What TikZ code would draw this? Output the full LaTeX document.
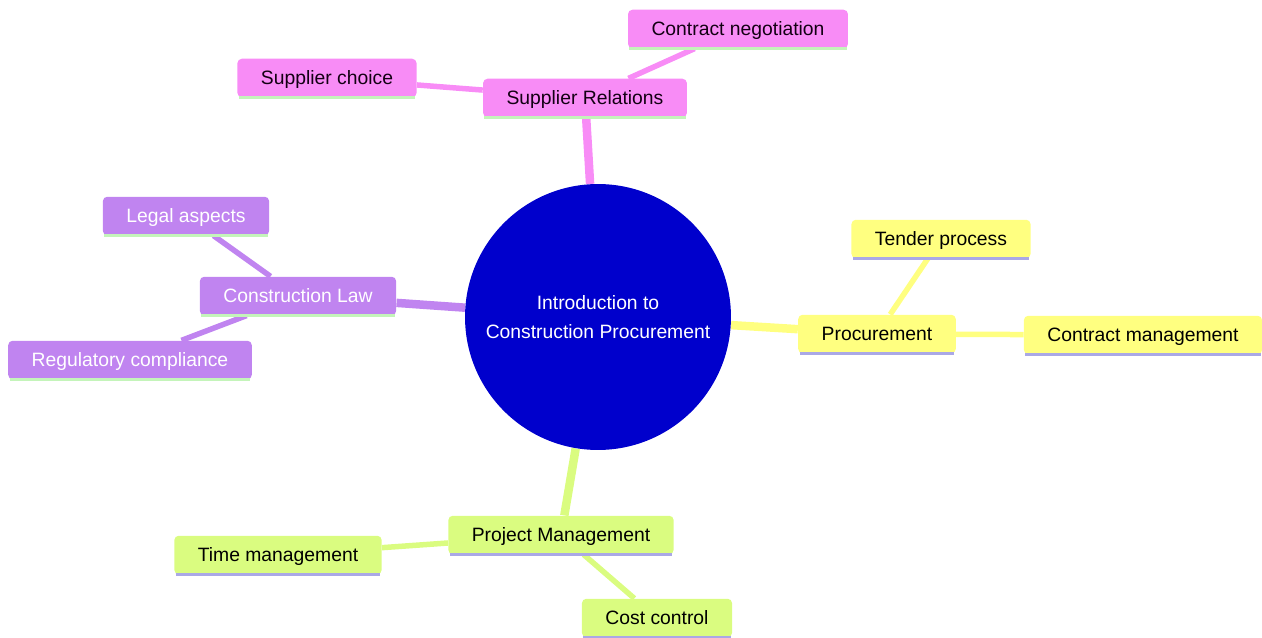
\documentclass[tikz,border=0pt]{standalone}
\usepackage{fontspec}
\setmainfont{Liberation Sans}
\usetikzlibrary{backgrounds}
\definecolor{relfill}{RGB}{248,140,246}
\definecolor{lawfill}{RGB}{192,132,240}
\definecolor{procfill}{RGB}{255,255,128}
\definecolor{pmfill}{RGB}{218,252,128}
\definecolor{rootblue}{RGB}{0,0,204}
\definecolor{greenline}{RGB}{196,244,186}
\definecolor{lavline}{RGB}{170,168,230}
\begin{document}
\begin{tikzpicture}[x=0.02cm,y=-0.02cm,
    font=\fontsize{11}{16.5}\selectfont,
    box/.style={rounded corners=2.5pt,minimum height=0.77cm,inner xsep=0.47cm,inner ysep=0pt,
      text height=0.82em,text depth=0.1em},
    rel/.style={box,fill=relfill,text=black!85!violet},
    law/.style={box,fill=lawfill,text=white},
    proc/.style={box,fill=procfill,text=black},
    pm/.style={box,fill=pmfill,text=black},
    trunk/.style={line width=0.17cm},
    twig/.style={line width=0.11cm}]
  \useasboundingbox (0,0) rectangle (1262,638);
  % root
  \node[circle,fill=rootblue,text=white,align=center,minimum size=5.32cm] (root) at (598,317)
    {Introduction to\\Construction Procurement};
  % supplier relations
  \node[rel] (rel) at (585,98) {Supplier Relations};
  \node[rel] (neg) at (738,29) {Contract negotiation};
  \node[rel] (choice) at (327,78) {Supplier choice};
  % construction law
  \node[law] (law) at (298,296) {Construction Law};
  \node[law] (legal) at (186,216) {Legal aspects};
  \node[law] (reg) at (130,360) {Regulatory compliance};
  % procurement
  \node[proc] (proc) at (877,334) {Procurement};
  \node[proc] (tender) at (941,239) {Tender process};
  \node[proc] (cm) at (1143,335) {Contract management};
  % project management
  \node[pm] (pm) at (561,535) {Project Management};
  \node[pm] (time) at (278,555) {Time management};
  \node[pm] (cost) at (657,618) {Cost control};
  % bottom lines
  \foreach \n in {rel,neg,choice,law,legal,reg}
    \draw[greenline,line width=0.05cm] ([xshift=1pt]\n.south west) -- ([xshift=-1pt]\n.south east);
  \foreach \n in {proc,tender,cm,pm,time,cost}
    \draw[lavline,line width=0.05cm] ([xshift=1pt]\n.south west) -- ([xshift=-1pt]\n.south east);
  \begin{scope}[on background layer]
    \draw[trunk,relfill] (root) -- (rel);
    \draw[twig,relfill] (rel) -- (neg);
    \draw[twig,relfill] (rel) -- (choice);
    \draw[trunk,lawfill] (root) -- (law);
    \draw[twig,lawfill] (law) -- (legal);
    \draw[twig,lawfill] (law) -- (reg);
    \draw[trunk,procfill] (root) -- (proc);
    \draw[twig,procfill] (proc) -- (tender);
    \draw[twig,procfill] (proc) -- (cm);
    \draw[trunk,pmfill] (root) -- (pm);
    \draw[twig,pmfill] (pm) -- (time);
    \draw[twig,pmfill] (pm) -- (cost);
  \end{scope}
\end{tikzpicture}
\end{document}
